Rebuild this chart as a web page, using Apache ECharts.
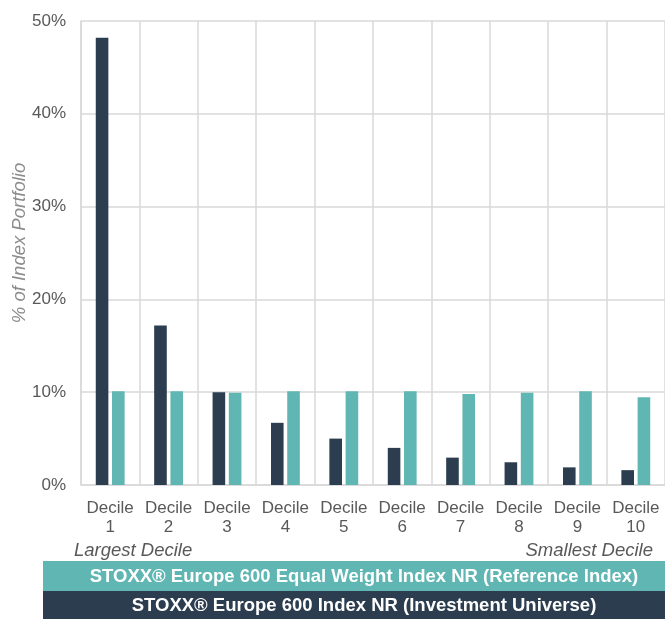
<!DOCTYPE html>
<html>
<head>
<meta charset="utf-8">
<script src="https://cdn.jsdelivr.net/npm/echarts@6/dist/echarts.min.js"></script>
<style>
html,body{margin:0;padding:0;background:#fff;}
#chart{width:665px;height:619px;}
</style>
</head>
<body>
<div id="chart"></div>
<script>
const categories = ['Decile\n1','Decile\n2','Decile\n3','Decile\n4','Decile\n5','Decile\n6','Decile\n7','Decile\n8','Decile\n9','Decile\n10'];
const universeName = 'STOXX® Europe 600 Index NR (Investment Universe)';
const referenceName = 'STOXX® Europe 600 Equal Weight Index NR (Reference Index)';
const universeValues = [48.2, 17.2, 10.0, 6.7, 5.0, 4.0, 2.95, 2.45, 1.9, 1.6];
const referenceValues = [10.1, 10.1, 9.95, 10.1, 10.1, 10.1, 9.8, 9.95, 10.1, 9.45];
const yTicks = {min: 0, max: 50, interval: 10};
const yAxisName = '% of Index Portfolio';
const leftNote = 'Largest Decile';
const rightNote = 'Smallest Decile';

const darkColor = '#2B3D4F';
const tealColor = '#60B6B2';
const gridColor = '#D9D9D9';
const font = 'Liberation Sans, Arial, sans-serif';

const chart = echarts.init(document.getElementById('chart'));
chart.setOption({
  animation: false,
  backgroundColor: '#fff',
  grid: {left: 81, right: 0, top: 21, bottom: 134, containLabel: false, outerBoundsMode: 'none'},
  xAxis: {
    type: 'category',
    data: categories,
    boundaryGap: true,
    axisLine: {show: true, lineStyle: {color: gridColor, width: 1.5}},
    axisTick: {show: false},
    splitLine: {show: true, lineStyle: {color: gridColor, width: 1.5}},
    axisLabel: {color: '#595959', fontSize: 17, fontFamily: font, lineHeight: 19, margin: 14, interval: 0}
  },
  yAxis: {
    type: 'value',
    min: yTicks.min, max: yTicks.max, interval: yTicks.interval,
    axisLine: {show: true, lineStyle: {color: gridColor, width: 1.5}},
    axisTick: {show: false},
    splitLine: {show: true, lineStyle: {color: gridColor, width: 1.5}},
    axisLabel: {color: '#595959', fontSize: 17, fontFamily: font, margin: 15, formatter: '{value}%'}
  },
  series: [
    {name: universeName, type: 'bar', data: universeValues, barWidth: 12.6, barGap: '29%',
     itemStyle: {color: darkColor}},
    {name: referenceName, type: 'bar', data: referenceValues, barWidth: 12.6,
     itemStyle: {color: tealColor}}
  ],
  graphic: [
    {type: 'text', x: 20, y: 243, rotation: Math.PI / 2,
     style: {text: yAxisName, fill: '#8C8C8C', font: 'italic 18.5px ' + font, align: 'center', verticalAlign: 'middle'}},
    {type: 'text', left: 74, top: 541, style: {text: leftNote, fill: '#595959', font: 'italic 18.5px ' + font}},
    {type: 'text', right: 12, top: 541, style: {text: rightNote, fill: '#595959', font: 'italic 18.5px ' + font}},
    {type: 'rect', shape: {x: 43, y: 561, width: 622, height: 30}, style: {fill: tealColor}},
    {type: 'rect', shape: {x: 43, y: 591, width: 622, height: 28}, style: {fill: darkColor}},
    {type: 'text', x: 364, y: 577, style: {text: referenceName, fill: '#fff', font: 'bold 18.5px ' + font, align: 'center', verticalAlign: 'middle'}},
    {type: 'text', x: 364, y: 606, style: {text: universeName, fill: '#fff', font: 'bold 18.5px ' + font, align: 'center', verticalAlign: 'middle'}}
  ]
});
</script>
</body>
</html>
